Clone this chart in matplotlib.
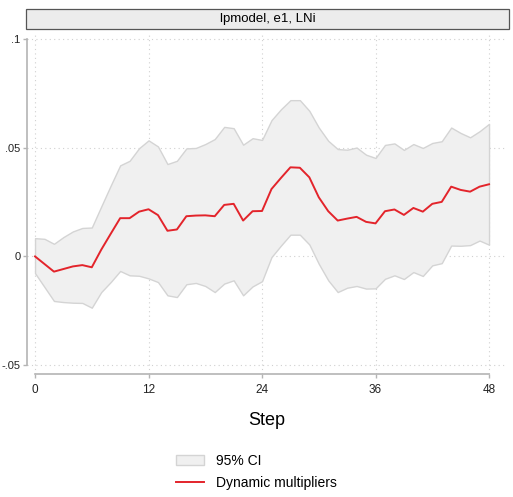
import matplotlib.pyplot as plt
from matplotlib.patches import Rectangle, Patch
from matplotlib.lines import Line2D
import numpy as np

plt.rcParams['font.family'] = ['Liberation Sans', 'DejaVu Sans']

# passos (horizonte) e valores
passos = np.arange(0, 49)

multiplicador = [0.0, -0.0035, -0.0070, -0.0058, -0.0046, -0.0040, -0.0050, 0.0031,
                 0.0104, 0.0176, 0.0176, 0.0206, 0.0217, 0.0190, 0.0118, 0.0124,
                 0.0185, 0.0188, 0.0189, 0.0185, 0.0237, 0.0242, 0.0165, 0.0208,
                 0.0209, 0.0310, 0.0361, 0.0410, 0.0408, 0.0364, 0.0272, 0.0208,
                 0.0165, 0.0174, 0.0182, 0.0159, 0.0152, 0.0208, 0.0216, 0.0191,
                 0.0223, 0.0206, 0.0242, 0.0251, 0.0321, 0.0306, 0.0298, 0.0321,
                 0.0332]

ic_sup = [0.0084, 0.0081, 0.0058, 0.0089, 0.0115, 0.0131, 0.0133, 0.0230,
          0.0326, 0.0419, 0.0440, 0.0498, 0.0534, 0.0506, 0.0425, 0.0440,
          0.0497, 0.0499, 0.0517, 0.0540, 0.0596, 0.0590, 0.0514, 0.0544,
          0.0536, 0.0627, 0.0677, 0.0719, 0.0719, 0.0670, 0.0593, 0.0532,
          0.0494, 0.0491, 0.0501, 0.0468, 0.0453, 0.0513, 0.0520, 0.0490,
          0.0517, 0.0499, 0.0522, 0.0530, 0.0593, 0.0568, 0.0548, 0.0576,
          0.0610]

ic_inf = [-0.0077, -0.0141, -0.0205, -0.0210, -0.0213, -0.0214, -0.0236, -0.0164,
          -0.0118, -0.0067, -0.0087, -0.0089, -0.0101, -0.0118, -0.0179, -0.0187,
          -0.0128, -0.0122, -0.0136, -0.0164, -0.0125, -0.0110, -0.0179, -0.0138,
          -0.0114, -0.0003, 0.0050, 0.0100, 0.0100, 0.0055, -0.0034, -0.0110,
          -0.0164, -0.0144, -0.0136, -0.0148, -0.0147, -0.0103, -0.0087, -0.0104,
          -0.0072, -0.0090, -0.0041, -0.0031, 0.0050, 0.0049, 0.0052, 0.0073,
          0.0054]

titulo = 'lpmodel, e1, LNi'
xticks = [0, 12, 24, 36, 48]
yticks = [-0.05, 0, 0.05, 0.1]
ylabels = ['-.05', '0', '.05', '.1']

cinza = '#b4b4b4'

fig = plt.figure(figsize=(5.13, 4.97), dpi=100)
ax = fig.add_axes([27 / 513, 1 - 374 / 497, 480 / 513, 341 / 497])

ax.fill_between(passos, ic_inf, ic_sup, facecolor='#f0f0f0', edgecolor='#d4d4d4', linewidth=1.0)
ax.plot(passos, multiplicador, color='#e3242b', linewidth=1.4)

ax.set_xlim(-0.85, 49.9)
ax.set_ylim(-0.0541, 0.1028)

ax.set_xticks(xticks)
ax.set_yticks(yticks)
ax.set_yticklabels(ylabels)
ax.grid(True, linestyle=(0, (1, 3)), color='#d0d0d0', linewidth=0.8)
ax.set_axisbelow(True)

for lado in ['top', 'right']:
    ax.spines[lado].set_visible(False)
ax.spines['left'].set_bounds(-0.05, 0.1)
ax.spines['bottom'].set_bounds(0, 48)
ax.spines['left'].set_color(cinza)
ax.spines['bottom'].set_color(cinza)
ax.spines['left'].set_linewidth(1.2)
ax.spines['bottom'].set_linewidth(1.2)
ax.tick_params(axis='both', colors=cinza, labelcolor='#222222', labelsize=8.5, length=3, width=1)
ax.tick_params(axis='y', pad=1.5, labelsize=8)
ax.tick_params(axis='x', pad=4)

ax.set_xlabel('Step', fontsize=13, labelpad=12)

# cabecalho estilo Stata
cab = Rectangle((26 / 513, 1 - 29 / 497), 483 / 513, 20 / 497, transform=fig.transFigure,
                facecolor='#ececec', edgecolor='#555555', linewidth=0.9)
fig.patches.append(cab)
fig.text((26 + 509) / 2 / 513, 1 - 19 / 497, titulo, ha='center', va='center', fontsize=9.5)

handles = [Patch(facecolor='#f0f0f0', edgecolor='#d4d4d4', label='95% CI'),
           Line2D([], [], color='#e3242b', linewidth=1.4, label='Dynamic multipliers')]
fig.legend(handles=handles, loc='center', bbox_to_anchor=(0.5, 1 - 472 / 497),
           frameon=False, fontsize=10, handlelength=2.0, labelspacing=0.6, handletextpad=0.9)

plt.savefig('out.png', dpi=100)
